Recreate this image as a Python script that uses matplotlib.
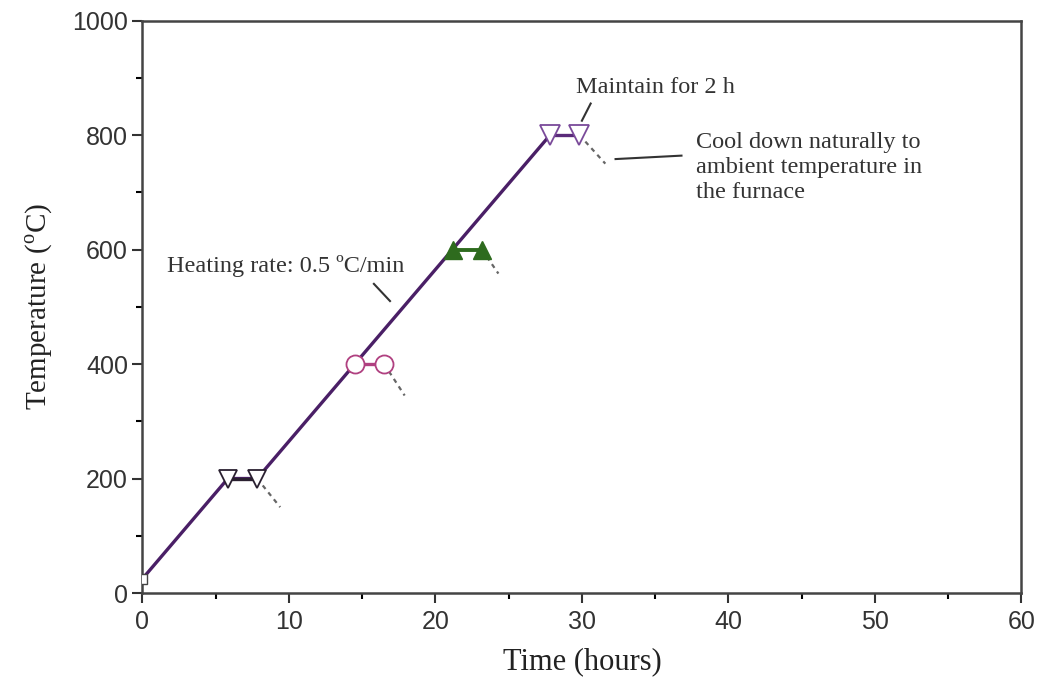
import numpy as np
import matplotlib.pyplot as plt
from matplotlib.ticker import MultipleLocator

# ---- data ----
ramp_t = [0.0, 5.83, 7.83, 27.83]
ramp_T = [25, 200, 200, 800]

hold_200_t = [0.0, 5.83, 7.83]
hold_200_T = [25, 200, 200]
hold_400_t = [14.5, 16.5]
hold_400_T = [400, 400]
hold_600_t = [21.17, 23.17]
hold_600_T = [600, 600]
hold_800_t = [27.83, 29.83]
hold_800_T = [800, 800]

cool_200_t = [7.83, 9.4]
cool_200_T = [200, 150]
cool_400_t = [16.5, 17.9]
cool_400_T = [400, 345]
cool_600_t = [23.17, 24.3]
cool_600_T = [600, 558]
cool_800_t = [29.83, 31.6]
cool_800_T = [800, 750]

serif = "Liberation Serif"
sans = "Liberation Sans"
plt.rcParams["mathtext.fontset"] = "custom"
plt.rcParams["mathtext.rm"] = serif

fig = plt.figure(figsize=(10.4, 6.84), dpi=100)
ax = fig.add_axes([0.137, 0.133, 0.845, 0.837])

ax.plot(ramp_t, ramp_T, color="#4a1f66", lw=2.4, zorder=2)

ax.plot(hold_200_t[1:], hold_200_T[1:], color="#2a2030", lw=2.4, marker="v",
        markersize=13, markerfacecolor="white", markeredgecolor="#2a2030",
        markeredgewidth=1.3, zorder=3)
ax.plot(hold_200_t[:1], hold_200_T[:1], ls="none", marker="s", markersize=7,
        markerfacecolor="white", markeredgecolor="#444444", zorder=3)
ax.plot(hold_400_t, hold_400_T, color="#b04080", lw=2.4, marker="o",
        markersize=13, markerfacecolor="white", markeredgecolor="#b04080",
        markeredgewidth=1.3, zorder=3)
ax.plot(hold_600_t, hold_600_T, color="#2e6b1e", lw=2.8, marker="^",
        markersize=13, markerfacecolor="#2e6b1e", markeredgecolor="#2e6b1e",
        zorder=3)
ax.plot(hold_800_t, hold_800_T, color="#5a2a7a", lw=2.4, marker="v",
        markersize=15, markerfacecolor="white", markeredgecolor="#7a4a9a",
        markeredgewidth=1.3, zorder=3)

for ct, cT in [(cool_200_t, cool_200_T), (cool_400_t, cool_400_T),
               (cool_600_t, cool_600_T), (cool_800_t, cool_800_T)]:
    ax.plot(ct, cT, color="#666666", lw=1.6, ls=(0, (2, 2)), zorder=1)

ax.set_xlim(0, 60)
ax.set_ylim(0, 1000)
ax.xaxis.set_major_locator(MultipleLocator(10))
ax.xaxis.set_minor_locator(MultipleLocator(5))
ax.yaxis.set_major_locator(MultipleLocator(200))
ax.yaxis.set_minor_locator(MultipleLocator(100))
ax.tick_params(which="major", direction="out", length=7, width=1.5,
               labelsize=18, colors="#333333")
ax.tick_params(which="minor", direction="out", length=4, width=1.5)
ax.tick_params(axis="x", pad=5)
for lab in ax.get_xticklabels() + ax.get_yticklabels():
    lab.set_family(sans)
for sp in ax.spines.values():
    sp.set_linewidth(1.8)
    sp.set_color("#444444")

ax.set_xlabel("Time (hours)", family=serif, fontsize=22, color="#222222",
              labelpad=10)
ax.set_ylabel("Temperature ($^{\\rm o}$C)", family=serif, fontsize=21,
              color="#222222", labelpad=12)

ax.text(1.7, 572, "Heating rate: 0.5 \u00baC/min", family=serif,
        fontsize=17.5, color="#333333", va="center")
ax.plot([15.8, 16.9], [540, 510], color="#333333", lw=1.5)

ax.text(29.6, 883, "Maintain for 2 h", family=serif, fontsize=17.5,
        color="#333333", va="center")
ax.plot([30.6, 30.0], [855, 825], color="#333333", lw=1.5)

ax.text(37.8, 743, "Cool down naturally to\nambient temperature in\nthe furnace",
        family=serif, fontsize=17.5, color="#333333", va="center",
        linespacing=1.25)
ax.plot([32.3, 36.8], [758, 764], color="#333333", lw=1.5)

fig.savefig("out.png", dpi=100)
